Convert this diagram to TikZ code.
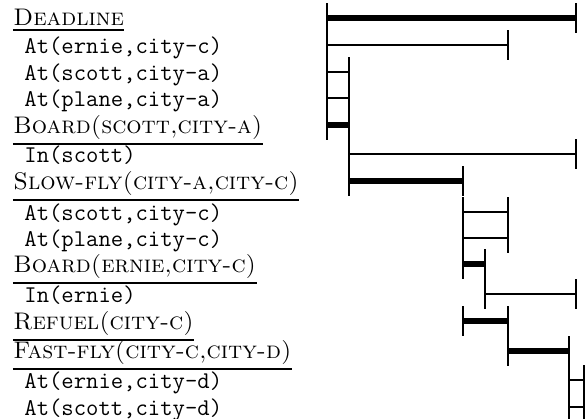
\documentclass[tikz,border=0pt]{standalone}
\usepackage{tikz}
\usetikzlibrary{positioning}

% one step of the plan: bar from #3 to #4 on row #2, ticks at both ends
\newcommand{\spanbar}[4]{%
  \draw[#1] (#2 -| #3) -- (#2 -| #4);
  \draw[tick] (#2 -| #3) ++(0,-15) -- ++(0,30);
  \draw[tick] (#2 -| #4) ++(0,-15) -- ++(0,30);
}

\begin{document}
\begin{tikzpicture}[x=0.5pt,y=-0.5pt,
  act/.style={anchor=base west,inner sep=0pt,font=\fontsize{12}{14}\selectfont\scshape},
  fact/.style={anchor=base west,inner sep=0pt,font=\fontsize{12}{14}\selectfont\ttfamily},
  thinbar/.style={line width=1.1pt},
  thickbar/.style={line width=2.6pt},
  tick/.style={line width=1.1pt},
  uline/.style={line width=1.2pt}]
\useasboundingbox (0,0) rectangle (586,419);

% rows and time points
\foreach \y [count=\i] in {18,45,72,98,125,154,181,212,238,264,294,321,351,380,407}
  \coordinate (r\i) at (0,\y);
\coordinate (t0) at (327,0);
\coordinate (t1) at (349,0);
\coordinate (t2) at (463,0);
\coordinate (t3) at (485,0);
\coordinate (t4) at (508,0);
\coordinate (t5) at (569,0);
\coordinate (t6) at (584,0);
\coordinate (dl) at (576,0);

% labels
\node[act] (l1) at (13,25) {Deadline};
\node[fact] (l2) at (24,53) {At(ernie,city-c)};
\node[fact] (l3) at (24,80) {At(scott,city-a)};
\node[fact] (l4) at (24,106) {At(plane,city-a)};
\node[act] (l5) at (13,133) {Board(scott,city-a)};
\node[fact] (l6) at (24,162) {In(scott)};
\node[act] (l7) at (13,189) {Slow-fly(city-a,city-c)};
\node[fact] (l8) at (24,220) {At(scott,city-c)};
\node[fact] (l9) at (24,246) {At(plane,city-c)};
\node[act] (l10) at (13,272) {Board(ernie,city-c)};
\node[fact] (l11) at (24,302) {In(ernie)};
\node[act] (l12) at (13,329) {Refuel(city-c)};
\node[act] (l13) at (13,358) {Fast-fly(city-c,city-d)};
\node[fact] (l14) at (24,388) {At(ernie,city-d)};
\node[fact] (l15) at (24,415) {At(scott,city-d)};

\foreach \n in {l1,l5,l7,l10,l12,l13}
  \draw[uline] ([yshift=-2.2pt]\n.south west) -- ([yshift=-2.2pt]\n.south east);

% bars
\spanbar{thickbar}{r1}{t0}{dl}
\spanbar{thinbar}{r2}{t0}{t4}
\spanbar{thinbar}{r3}{t0}{t1}
\spanbar{thinbar}{r4}{t0}{t1}
\spanbar{thickbar}{r5}{t0}{t1}
\spanbar{thinbar}{r6}{t1}{dl}
\spanbar{thickbar}{r7}{t1}{t2}
\spanbar{thinbar}{r8}{t2}{t4}
\spanbar{thinbar}{r9}{t2}{t4}
\spanbar{thickbar}{r10}{t2}{t3}
\spanbar{thinbar}{r11}{t3}{dl}
\spanbar{thickbar}{r12}{t2}{t4}
\spanbar{thickbar}{r13}{t4}{t5}
\spanbar{thinbar}{r14}{t5}{t6}
\spanbar{thinbar}{r15}{t5}{t6}
\end{tikzpicture}
\end{document}
